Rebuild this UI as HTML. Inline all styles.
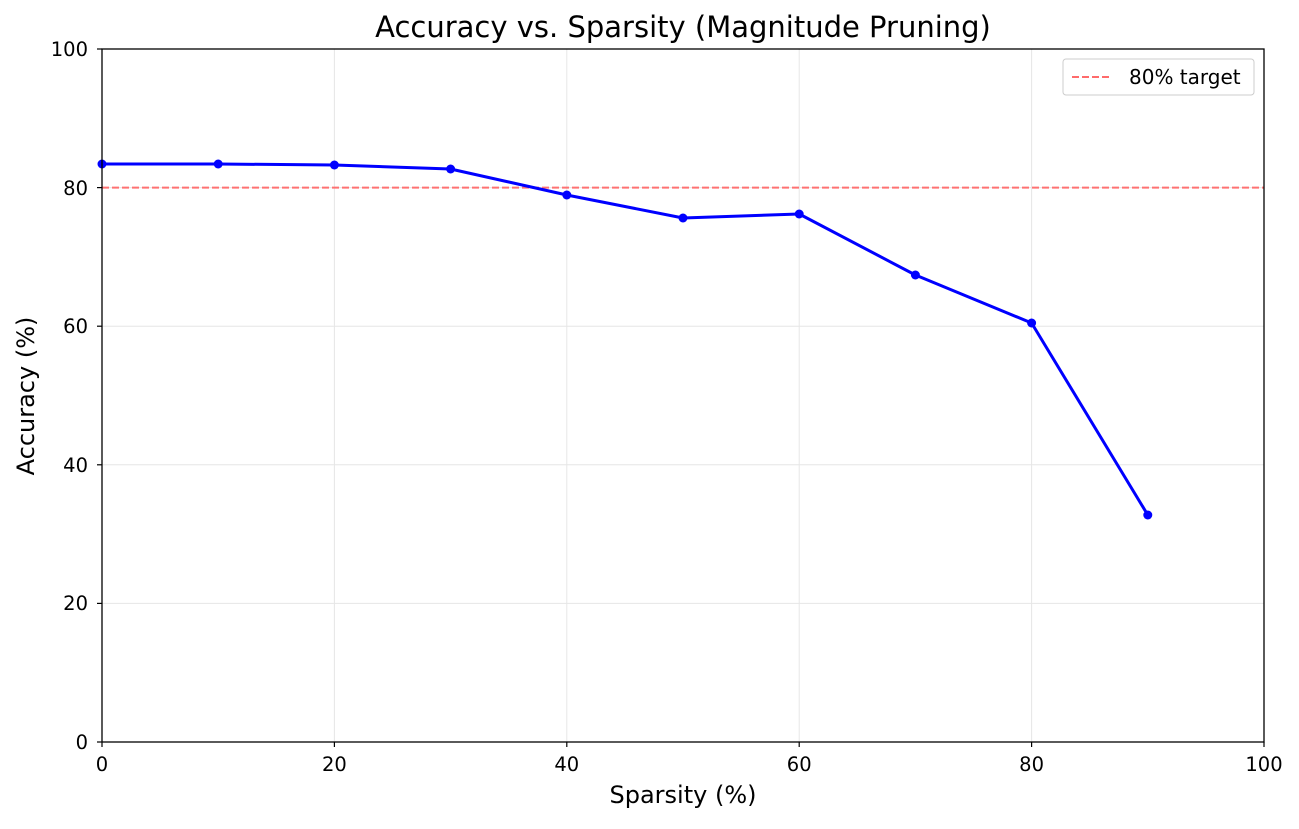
<!DOCTYPE html>
<html><head><meta charset="utf-8"><style>body{margin:0;background:#fff}</style></head>
<body>
<svg width="1299" height="824" xmlns="http://www.w3.org/2000/svg" font-family="'DejaVu Sans', 'Liberation Sans', sans-serif">
<rect width="1299" height="824" fill="#fff"/>
<g stroke="#e6e6e6" stroke-width="1">
<line x1="334.4" y1="49" x2="334.4" y2="742"/><line x1="566.8" y1="49" x2="566.8" y2="742"/><line x1="799.2" y1="49" x2="799.2" y2="742"/><line x1="1031.6" y1="49" x2="1031.6" y2="742"/>
<line x1="102" y1="603.4" x2="1264" y2="603.4"/><line x1="102" y1="464.8" x2="1264" y2="464.8"/><line x1="102" y1="326.2" x2="1264" y2="326.2"/><line x1="102" y1="187.6" x2="1264" y2="187.6"/>
</g>
<line x1="102" y1="187.6" x2="1264" y2="187.6" stroke="#ff6b6b" stroke-opacity="0.95" stroke-width="2" stroke-dasharray="7,3"/>
<polyline fill="none" stroke="#0000ff" stroke-width="3" stroke-linejoin="round" points="102,164 218.2,164 334.4,165 450.6,169 566.8,195 683,218 799.2,214 915.4,275 1031.6,323 1147.8,515"/>
<g fill="#0000ff">
<circle cx="102" cy="164" r="4.5"/><circle cx="218.2" cy="164" r="4.5"/><circle cx="334.4" cy="165" r="4.5"/><circle cx="450.6" cy="169" r="4.5"/><circle cx="566.8" cy="195" r="4.5"/><circle cx="683" cy="218" r="4.5"/><circle cx="799.2" cy="214" r="4.5"/><circle cx="915.4" cy="275" r="4.5"/><circle cx="1031.6" cy="323" r="4.5"/><circle cx="1147.8" cy="515" r="4.5"/>
</g>
<rect x="102" y="49" width="1162" height="693" fill="none" stroke="#000" stroke-width="1.3"/>
<g stroke="#000" stroke-width="1.2">
<line x1="102" y1="742" x2="102" y2="747"/><line x1="334.4" y1="742" x2="334.4" y2="747"/><line x1="566.8" y1="742" x2="566.8" y2="747"/><line x1="799.2" y1="742" x2="799.2" y2="747"/><line x1="1031.6" y1="742" x2="1031.6" y2="747"/><line x1="1264" y1="742" x2="1264" y2="747"/>
<line x1="97" y1="742" x2="102" y2="742"/><line x1="97" y1="603.4" x2="102" y2="603.4"/><line x1="97" y1="464.8" x2="102" y2="464.8"/><line x1="97" y1="326.2" x2="102" y2="326.2"/><line x1="97" y1="187.6" x2="102" y2="187.6"/><line x1="97" y1="49" x2="102" y2="49"/>
</g>
<g font-size="19.5" fill="#000" text-anchor="middle">
<text x="102" y="771">0</text><text x="334.4" y="771">20</text><text x="566.8" y="771">40</text><text x="799.2" y="771">60</text><text x="1031.6" y="771">80</text><text x="1264" y="771">100</text>
</g>
<g font-size="19.5" fill="#000" text-anchor="end">
<text x="88" y="749">0</text><text x="88" y="610">20</text><text x="88" y="472">40</text><text x="88" y="333">60</text><text x="88" y="195">80</text><text x="88" y="56">100</text>
</g>
<text x="683" y="803" font-size="24" text-anchor="middle">Sparsity (%)</text>
<text x="34" y="396" font-size="24" text-anchor="middle" transform="rotate(-90 34 396)">Accuracy (%)</text>
<text x="683" y="37" font-size="29" text-anchor="middle">Accuracy vs. Sparsity (Magnitude Pruning)</text>
<rect x="1063" y="59" width="191" height="36" rx="3" fill="#fff" stroke="#ccc"/>
<line x1="1072" y1="77" x2="1112" y2="77" stroke="#ff6b6b" stroke-width="2" stroke-dasharray="7,3"/>
<text x="1129" y="84" font-size="20">80% target</text>
</svg>
</body></html>
